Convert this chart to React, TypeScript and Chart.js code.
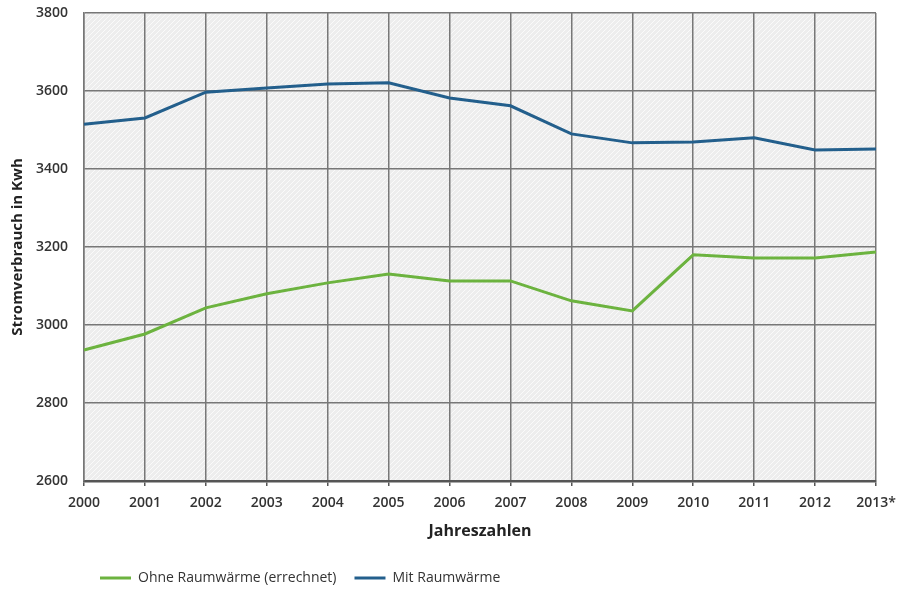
import React, { useEffect, useRef } from "react";
import { Chart, registerables } from "chart.js";

Chart.register(...registerables);

const years = ["2000", "2001", "2002", "2003", "2004", "2005", "2006", "2007", "2008", "2009", "2010", "2011", "2012", "2013*"];
const ohneRaumwaerme = [2936, 2977, 3044, 3080, 3108, 3131, 3113, 3113, 3062, 3036, 3180, 3172, 3172, 3187];
const mitRaumwaerme = [3515, 3531, 3597, 3608, 3618, 3621, 3582, 3562, 3490, 3467, 3469, 3480, 3449, 3451];
const seriesNames = ["Ohne Raumwärme (errechnet)", "Mit Raumwärme"];
const yMin = 2600;
const yMax = 3800;
const yStep = 200;

const FONT = "'Open Sans', 'Noto Sans', sans-serif";
const GREEN = "#6cb33f";
const BLUE = "#235f8c";
const GRID = "#777777";

function makePattern(): CanvasPattern | string {
  const c = document.createElement("canvas");
  c.width = 5;
  c.height = 5;
  const g = c.getContext("2d");
  if (!g) return "#eeeeee";
  g.fillStyle = "#ededed";
  g.fillRect(0, 0, 5, 5);
  g.strokeStyle = "#fafafa";
  g.lineWidth = 1;
  g.beginPath();
  g.moveTo(-1, 6);
  g.lineTo(6, -1);
  g.moveTo(-1, 1);
  g.lineTo(1, -1);
  g.moveTo(4, 6);
  g.lineTo(6, 4);
  g.stroke();
  const p = g.createPattern(c, "repeat");
  return p || "#eeeeee";
}

const hatchPlugin = {
  id: "hatchBg",
  beforeDraw(chart: any) {
    const { ctx, chartArea } = chart;
    if (!chartArea) return;
    ctx.save();
    ctx.fillStyle = makePattern();
    ctx.fillRect(chartArea.left, chartArea.top, chartArea.right - chartArea.left, chartArea.bottom - chartArea.top);
    ctx.restore();
  },
};

const legendMovePlugin = {
  id: "legendMove",
  afterLayout(chart: any) {
    const lg = chart.legend;
    if (!lg) return;
    const dx = 82;
    const dy = 6;
    lg.left += dx;
    lg.right += dx;
    lg.top += dy;
    lg.bottom += dy;
  },
};

export default function App() {
  const ref = useRef<HTMLCanvasElement | null>(null);

  useEffect(() => {
    document.body.style.margin = "0";
    document.body.style.overflow = "hidden";
    if (!ref.current) return;
    const chart = new Chart(ref.current, {
      type: "line",
      data: {
        labels: years,
        datasets: [
          {
            label: seriesNames[0],
            data: ohneRaumwaerme,
            borderColor: GREEN,
            backgroundColor: GREEN,
            borderWidth: 3,
            pointRadius: 0,
            tension: 0,
          },
          {
            label: seriesNames[1],
            data: mitRaumwaerme,
            borderColor: BLUE,
            backgroundColor: BLUE,
            borderWidth: 3,
            pointRadius: 0,
            tension: 0,
          },
        ],
      },
      options: {
        responsive: false,
        animation: false,
        layout: { autoPadding: false, padding: { top: 13, right: 21, bottom: 0, left: 0 } },
        plugins: {
          tooltip: { enabled: false },
          legend: {
            position: "bottom",
            align: "start",
            labels: {
              boxWidth: 31,
              boxHeight: 3,
              padding: 18,
              color: "#333333",
              font: { family: FONT, size: 14 },
              generateLabels(chart: any) {
                const items = Chart.defaults.plugins.legend.labels.generateLabels(chart);
                return items.map((it: any) => ({ ...it, lineWidth: 0, strokeStyle: "rgba(0,0,0,0)" }));
              },
            },
          },
        },
        scales: {
          x: {
            type: "category",
            offset: false,
            grid: {
              color: GRID,
              lineWidth: 1.5,
              drawTicks: true,
              tickLength: 5,
              tickColor: "#555555",
              tickWidth: 1.5,
              offset: false,
            },
            border: { color: "#555555", width: 2.5 },
            ticks: {
              color: "#333333",
              font: { family: FONT, size: 14, weight: "600" },
              padding: 9,
              maxRotation: 0,
              autoSkip: false,
            },
            title: {
              display: true,
              text: "Jahreszahlen",
              color: "#222222",
              font: { family: FONT, size: 16, weight: "bold" },
              padding: { top: 0, bottom: 6.4 },
            },
            afterFit(scale: any) {
              scale.height = 66;
              scale.paddingLeft = 0;
              scale.paddingRight = 0;
            },
          },
          y: {
            min: yMin,
            max: yMax,
            grid: {
              color: GRID,
              lineWidth: 1.5,
              drawTicks: false,
            },
            border: { color: GRID, width: 1.5 },
            ticks: {
              stepSize: yStep,
              color: "#333333",
              font: { family: FONT, size: 14, weight: "600" },
              padding: 16,
              callback: (v: any) => String(v),
            },
            title: {
              display: true,
              text: "Stromverbrauch in Kwh",
              color: "#222222",
              font: { family: FONT, size: 15, weight: "bold" },
              padding: { top: 9, bottom: 0 },
            },
            afterFit(scale: any) {
              scale.width = 84;
              scale.paddingTop = 0;
              scale.paddingBottom = 0;
            },
          },
        },
      },
      plugins: [hatchPlugin, legendMovePlugin],
    } as any);
    return () => chart.destroy();
  }, []);

  return <canvas ref={ref} width={897} height={589} style={{ display: "block" }} />;
}
